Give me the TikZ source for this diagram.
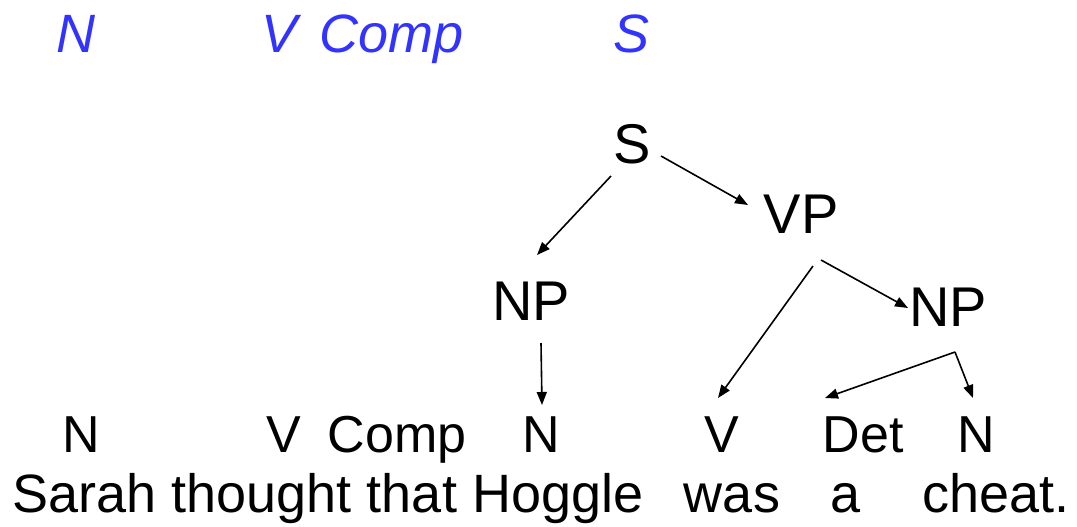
\documentclass[tikz,border=0pt]{standalone}
\usepackage{fontspec}
\setmainfont{Liberation Sans}
\usetikzlibrary{arrows.meta,calc}

\definecolor{guessblue}{RGB}{51,51,255}

\begin{document}
\begin{tikzpicture}[x=0.5pt, y=-0.5pt,
    guess/.style={anchor=base, text=guessblue, font=\fontsize{27}{31}\selectfont\itshape},
    phrase/.style={anchor=base, font=\fontsize{28}{32}\selectfont},
    cat/.style={anchor=base, font=\fontsize{26}{30}\selectfont},
    word/.style={anchor=base, inner sep=0pt, font=\fontsize{27}{31}\selectfont},
    arr/.style={-{Triangle[length=6.5pt,width=5pt]}, line width=0.8pt}]
        \useasboundingbox (0,0) rectangle (1077,526);

        % Guessed categories
        \node[guess] (gn) at (76,52) {N};
        \node[guess] (gv) at (280,52) {V};
        \node[guess] (gcomp) at (392,52) {Comp};
        \node[guess] (gs) at (632,52) {S};

        % Phrase nodes
        \node[phrase] (s) at (632,163) {S};
        \node[phrase] (vp) at (801,233) {VP};
        \node[phrase] (npl) at (531,320) {NP};
        \node[phrase] (npr) at (948,326) {NP};

        % Word categories
        \node[cat] (n1) at (81,452) {N};
        \node[cat] (v1) at (284,452) {V};
        \node[cat] (comp) at (397,452) {Comp};
        \node[cat] (n2) at (541,452) {N};
        \node[cat] (v2) at (722,452) {V};
        \node[cat] (det) at (863,452) {Det};
        \node[cat] (n3) at (976,452) {N};

        % Sentence
        \node[word] (w1) at (328,512) {Sarah thought that Hoggle};
        \node[word] (w2) at (732,512) {was};
        \node[word] (w3) at (846,512) {a};
        \node[word] (w4) at (996,512) {cheat.};

        % Edges
        \coordinate (split) at ($(npr.base)+(7,26)$);
        \draw[arr] ($(s.base)+(-21,13)$) -- ($(npl.base)+(6,-65)$);
        \draw[arr] ($(s.base)+(29,-7)$) -- ($(vp.base)+(-53,-28)$);
        \draw[arr] ($(vp.base)+(20,27)$) -- ($(npr.base)+(-40,-18)$);
        \draw[arr] ($(vp.base)+(12,33)$) -- ($(v2.base)+(-4,-54)$);
        \draw[arr] ($(npl.base)+(10,23)$) -- ($(n2.base)+(1,-47)$);
        \draw[arr] (split) -- ($(det.base)+(-38,-54)$);
        \draw[arr] (split) -- ($(n3.base)+(-3,-54)$);
    \end{tikzpicture}
\end{document}
